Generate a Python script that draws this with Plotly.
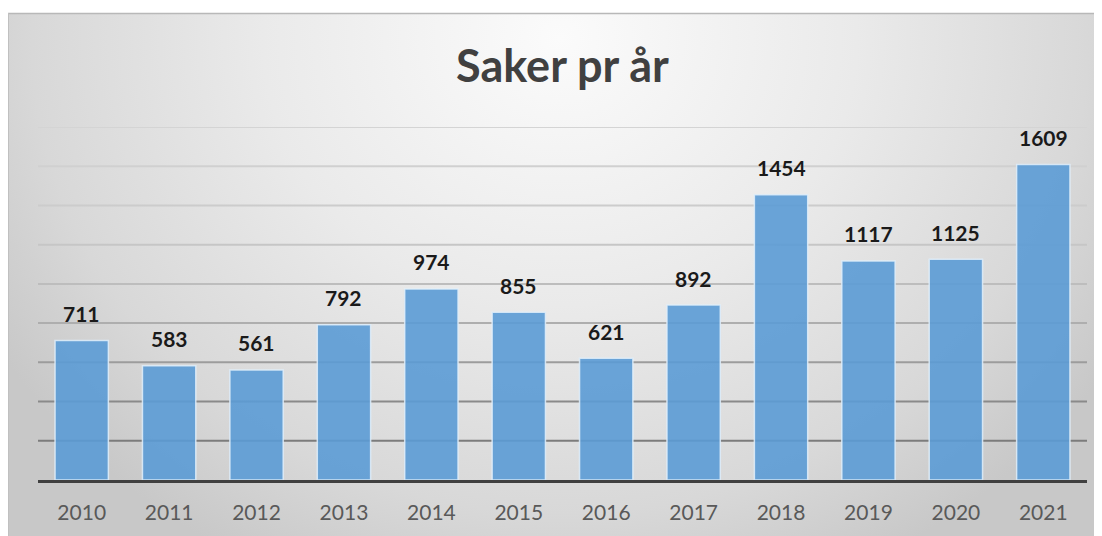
import base64
import plotly.graph_objects as go

years = ["2010", "2011", "2012", "2013", "2014", "2015", "2016", "2017", "2018", "2019", "2020", "2021"]
cases = [711, 583, 561, 792, 974, 855, 621, 892, 1454, 1117, 1125, 1609]
grid_values = [200, 400, 600, 800, 1000, 1200, 1400, 1600, 1800]
grid_colors = ["#7c7c7c", "#8a8a8a", "#9c9c9c", "#aeaeae", "#bdbdbd", "#c6c6c6", "#cccccc", "#d0d0d0", "#d4d4d4"]
title_text = "Saker pr år"

# page body adds an 8px margin, so the figure is 8px smaller than the window
W, H = 1094, 528
L, R, T, B = 30, 15, 119, 56
pw, ph = W - L - R, H - T - B

svg = f'''<svg xmlns="http://www.w3.org/2000/svg" width="{W}" height="{H}" viewBox="0 0 {W} {H}">
<defs>
<radialGradient id="g" gradientUnits="userSpaceOnUse" cx="552" cy="30" r="660" gradientTransform="translate(552 30) scale(1 0.9) translate(-552 -30)">
<stop offset="0" stop-color="#fbfbfb"/>
<stop offset="0.45" stop-color="#eaeaea"/>
<stop offset="0.8" stop-color="#d8d8d8"/>
<stop offset="1" stop-color="#c8c8c8"/>
</radialGradient>
</defs>
<rect x="0" y="0" width="{W}" height="{H}" fill="#ffffff"/>
<rect x="0" y="5" width="{W}" height="{H-5}" fill="url(#g)"/>
<line x1="0" y1="5.5" x2="{W}" y2="5.5" stroke="#b8b8b8" stroke-width="1.5"/>
<line x1="0.5" y1="5" x2="0.5" y2="{H}" stroke="#c0c0c0" stroke-width="1"/>
</svg>'''
bg_uri = "data:image/svg+xml;base64," + base64.b64encode(svg.encode()).decode()

fig = go.Figure()
fig.add_trace(go.Bar(
    x=years, y=cases,
    marker=dict(color="rgba(91,155,213,0.9)", line=dict(color="rgba(225,238,250,0.85)", width=1.5)),
    hoverinfo="x+y",
))

for v, c in zip(grid_values, grid_colors):
    fig.add_shape(type="line", xref="paper", x0=0, x1=1, yref="y", y0=v, y1=v,
                  line=dict(color=c, width=2), layer="below")

for i, v in enumerate(cases):
    fig.add_annotation(x=i, y=v, text=f"<b>{v}</b>", showarrow=False, yanchor="middle", yshift=27,
                       font=dict(family="Lato", size=21, color="#1a1a1a"))

fig.add_annotation(xref="paper", yref="paper", x=0.5, y=(H - 57 - B) / ph, yanchor="middle",
                   text=f"<b>{title_text}</b>", showarrow=False,
                   font=dict(family="Lato", size=45, color="#404040"))

fig.add_layout_image(dict(source=bg_uri, xref="paper", yref="paper",
                          x=-L / pw, y=(ph + T) / ph, sizex=W / pw, sizey=H / ph,
                          xanchor="left", yanchor="top", sizing="stretch", layer="below"))

fig.update_layout(
    width=W, height=H,
    margin=dict(l=L, r=R, t=T, b=B, pad=0),
    paper_bgcolor="rgba(0,0,0,0)", plot_bgcolor="rgba(0,0,0,0)",
    bargap=0.39, showlegend=False,
    font=dict(family="Lato"),
)
fig.update_xaxes(type="category", range=[-0.5, len(years) - 0.5], showline=True, linecolor="#404040",
                 linewidth=3, showgrid=False,
                 tickfont=dict(family="Lato", size=21, color="#595959"), ticks="", ticklabelstandoff=12)
fig.update_yaxes(range=[0, 1800], showgrid=False, zeroline=False, showticklabels=False, showline=False)

fig.write_html("out.html")
